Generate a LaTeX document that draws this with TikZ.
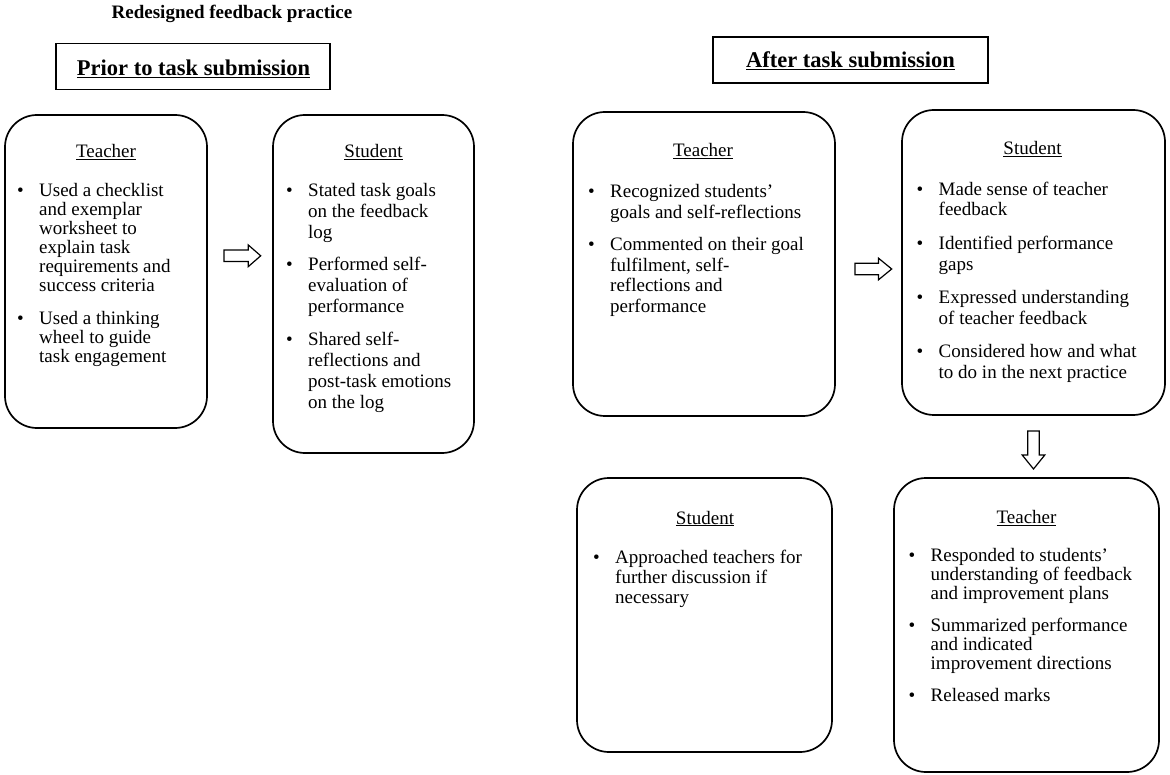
\documentclass[tikz,border=0pt]{standalone}
\usepackage{fontspec}
\setmainfont{Liberation Serif}
\newcommand{\bul}{\llap{\textbullet\hspace{15.5pt}}\rule{0pt}{14pt}}
\begin{document}
\begin{tikzpicture}[x=1pt,y=-1pt,
  rbox/.style={draw, line width=1.7pt, rounded corners=32pt, inner sep=0pt},
  tbox/.style={draw, line width=1.3pt, inner sep=0pt},
  head/.style={anchor=base, inner sep=0pt, font=\fontsize{19}{21}\selectfont},
  ttl/.style={anchor=base, inner sep=0pt, font=\fontsize{22.5}{26}\selectfont\bfseries},
  bitem/.style={anchor=north west, align=left, inner sep=0pt, font=\fontsize{19}{#1}\selectfont},
  blockarrow/.style={draw, line width=1.2pt, fill=white, line join=miter}]
\fill[white] (0,0) rectangle (1170,775);
\useasboundingbox (0,0) rectangle (1170,775);

% title
\node[anchor=base, inner sep=0pt, font=\fontsize{19}{21}\selectfont\bfseries] (title) at (232,18.5) {Redesigned feedback practice};

% phase boxes
\node[tbox, minimum width=274pt, minimum height=46.5pt] (prior) at (193,66.5) {};
\node[ttl] (priort) at (193.5,76) {\underline{Prior to task submission}};
\node[tbox, minimum width=275pt, minimum height=46pt] (after) at (850.5,60) {};
\node[ttl] (aftert) at (850.5,68) {\underline{After task submission}};

% rounded boxes
\node[rbox, minimum width=202pt, minimum height=313pt] (ta) at (106,271.5) {};
\node[rbox, minimum width=201pt, minimum height=338pt] (sb) at (373.5,284) {};
\node[rbox, minimum width=262pt, minimum height=304pt] (tc) at (704,264) {};
\node[rbox, minimum width=263pt, minimum height=305pt] (sd) at (1033.5,262.5) {};
\node[rbox, minimum width=255pt, minimum height=274pt] (se) at (704.5,615) {};
\node[rbox, minimum width=265pt, minimum height=294pt] (tf) at (1026.5,625) {};

% headings
\node[head] (tah) at (106,157.7) {\underline{Teacher}};
\node[head] (sbh) at (373.5,157.5) {\underline{Student}};
\node[head] (tch) at (703,157) {\underline{Teacher}};
\node[head] (sdh) at (1032.5,154.5) {\underline{Student}};
\node[head] (seh) at (705,524) {\underline{Student}};
\node[head] (tfh) at (1026.5,523.3) {\underline{Teacher}};

% box A
\node[bitem=19] (ta1) at (39,182.7) {\bul Used a checklist\\and exemplar\\worksheet to\\explain task\\requirements and\\success criteria};
\node[bitem=19] (ta2) at (39,310) {\bul Used a thinking\\wheel to guide\\task engagement};
% box B
\node[bitem=20.8] (sb1) at (308,182.5) {\bul Stated task goals\\on the feedback\\log};
\node[bitem=20.8] (sb2) at (308,256.5) {\bul Performed self-\\evaluation of\\performance};
\node[bitem=20.8] (sb3) at (308,331.8) {\bul Shared self-\\reflections and\\post-task emotions\\on the log};
% box C
\node[bitem=20.5] (tc1) at (610,183.5) {\bul Recognized students’\\goals and self-reflections};
\node[bitem=20.5] (tc2) at (610,236.5) {\bul Commented on their goal\\fulfilment, self-\\reflections and\\performance};
% box D
\node[bitem=20.5] (sd1) at (938.5,181) {\bul Made sense of teacher\\feedback};
\node[bitem=20.5] (sd2) at (938.5,235.4) {\bul Identified performance\\gaps};
\node[bitem=20.5] (sd3) at (938.5,289.4) {\bul Expressed understanding\\of teacher feedback};
\node[bitem=20.5] (sd4) at (938.5,343.7) {\bul Considered how and what\\to do in the next practice};
% box E
\node[bitem=20] (se1) at (615,549) {\bul Approached teachers for\\further discussion if\\necessary};
% box F
\node[bitem=18.8] (tf1) at (930.5,547.7) {\bul Responded to students’\\understanding of feedback\\and improvement plans};
\node[bitem=18.8] (tf2) at (930.5,617.7) {\bul Summarized performance\\and indicated\\improvement directions};
\node[bitem=18.8] (tf3) at (930.5,687.7) {\bul Released marks};

% block arrows
\draw[blockarrow] (224,250) -- (248.3,250) -- (248.3,245) -- (260.7,255.8) -- (248.3,266.6) -- (248.3,261.6) -- (224,261.6) -- cycle;
\draw[blockarrow] (855,263.2) -- (878.5,263.2) -- (878.5,258.2) -- (891.7,269) -- (878.5,279.8) -- (878.5,274.8) -- (855,274.8) -- cycle;
\draw[blockarrow] (1027.7,431) -- (1027.7,455) -- (1022.2,455) -- (1033.5,469) -- (1044.8,455) -- (1039.3,455) -- (1039.3,431) -- cycle;
\end{tikzpicture}
\end{document}
